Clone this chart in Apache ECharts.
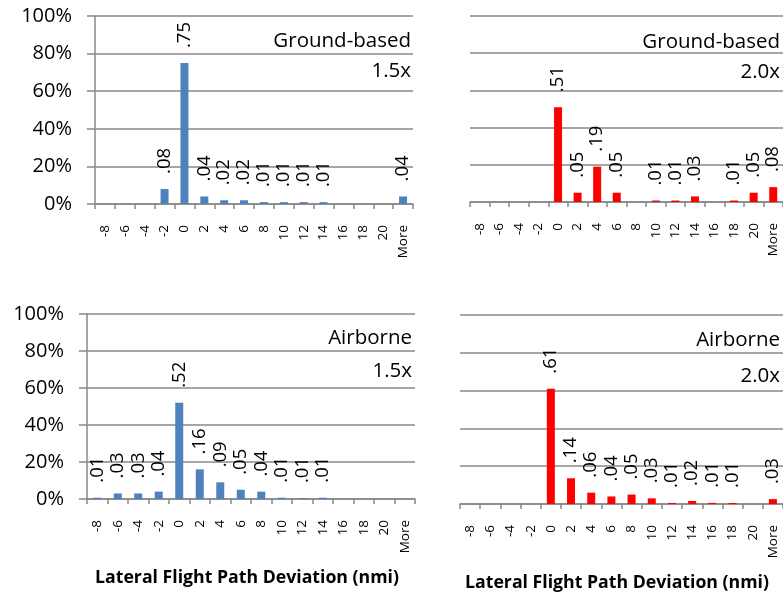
<!DOCTYPE html>
<html>
<head>
<meta charset="utf-8">
<script src="https://cdn.jsdelivr.net/npm/echarts@6/dist/echarts.min.js"></script>
<style>
html,body{margin:0;padding:0;background:#fff;}
#c{width:783px;height:592px;}
</style>
</head>
<body>
<div id="c"></div>
<script>
const categories = ['-8','-6','-4','-2','0','2','4','6','8','10','12','14','16','18','20','More'];
const yTicks = [0, 0.2, 0.4, 0.6, 0.8, 1.0];
const groundLow  = [0,0,0,0.08,0.75,0.04,0.02,0.02,0.01,0.01,0.01,0.01,0,0,0,0.04];
const groundHigh = [0,0,0,0,0.51,0.05,0.19,0.05,0,0.008,0.008,0.03,0,0.008,0.05,0.08];
const airLow     = [0.007,0.03,0.03,0.04,0.52,0.16,0.09,0.05,0.04,0.007,0.005,0.007,0,0,0,0];
const airHigh    = [0,0,0,0,0.61,0.136,0.06,0.04,0.05,0.03,0.0055,0.016,0.006,0.0055,0,0.026];
const panelTitles = [['Ground-based','1.5x'],['Ground-based','2.0x'],['Airborne','1.5x'],['Airborne','2.0x']];
const xTitle = 'Lateral Flight Path Deviation (nmi)';

const FONT = '"Open Sans", "DejaVu Sans", sans-serif';
const GRID_COLOR = '#888888';
const BLUE = '#4F81BD';
const RED = '#FF0000';

const grids = [
  {left: 95,  top: 16,  width: 318, height: 188},
  {left: 470, top: 16,  width: 316, height: 186},
  {left: 87,  top: 314, width: 328, height: 185},
  {left: 460, top: 315, width: 330, height: 189}
];
const showY = [true, false, true, false];
const seriesData = [groundLow, groundHigh, airLow, airHigh];
const colors = [BLUE, RED, BLUE, RED];

const xAxes = grids.map((g, i) => ({
  type: 'category', gridIndex: i, data: categories,
  boundaryGap: true,
  axisLine: {show: true, lineStyle: {color: GRID_COLOR, width: 1.5}},
  axisTick: {show: true, length: 5, lineStyle: {color: GRID_COLOR, width: 1.5}},
  axisLabel: {rotate: 90, margin: 21, color: '#000', fontFamily: FONT, fontSize: 13.5, interval: 0}
}));
const yAxes = grids.map((g, i) => ({
  type: 'value', gridIndex: i, min: yTicks[0], max: yTicks[yTicks.length-1], interval: yTicks[1]-yTicks[0],
  axisLine: {show: showY[i], lineStyle: {color: GRID_COLOR, width: 1.5}},
  axisTick: {show: showY[i], length: 8, lineStyle: {color: GRID_COLOR, width: 1.5}},
  splitLine: {show: true, lineStyle: {color: GRID_COLOR, width: 1.5}},
  axisLabel: {show: showY[i], margin: 23, color: '#000', fontFamily: FONT, fontSize: 20,
    formatter: v => Math.round(v*100) + '%'}
}));
const series = seriesData.map((d, i) => ({
  type: 'bar', xAxisIndex: i, yAxisIndex: i, data: d, barWidth: 8,
  itemStyle: {color: colors[i]},
  label: {show: true, position: 'top', rotate: 90, distance: 15, align: 'left', verticalAlign: 'middle',
    color: '#000', fontFamily: FONT, fontSize: 18.5,
    formatter: p => p.value > 0 ? '.' + String(Math.round(p.value*100)).padStart(2,'0') : ''}
}));

const titlePos = [
  {x: 411, y1: 41, y2: 71},
  {x: 780, y1: 42, y2: 72},
  {x: 412, y1: 338, y2: 371},
  {x: 780, y1: 340, y2: 376}
];
const graphics = [];
panelTitles.forEach((t, i) => {
  graphics.push({type: 'text', x: titlePos[i].x, y: titlePos[i].y1,
    style: {text: t[0], textAlign: 'right', textVerticalAlign: 'middle', fill: '#000', font: '20.5px ' + FONT}});
  graphics.push({type: 'text', x: titlePos[i].x, y: titlePos[i].y2,
    style: {text: t[1], textAlign: 'right', textVerticalAlign: 'middle', fill: '#000', font: '20.5px ' + FONT}});
});
graphics.push({type: 'text', x: 247, y: 578, style: {text: xTitle, textAlign: 'center', textVerticalAlign: 'middle', fill: '#000', font: 'bold 17.7px ' + FONT}});
graphics.push({type: 'text', x: 617, y: 583, style: {text: xTitle, textAlign: 'center', textVerticalAlign: 'middle', fill: '#000', font: 'bold 17.7px ' + FONT}});

const chart = echarts.init(document.getElementById('c'), null, {renderer: 'canvas'});
chart.setOption({
  animation: false,
  backgroundColor: '#fff',
  grid: grids.map(g => Object.assign({containLabel: false}, g)),
  xAxis: xAxes,
  yAxis: yAxes,
  series: series,
  graphic: graphics
});
</script>
</body>
</html>
